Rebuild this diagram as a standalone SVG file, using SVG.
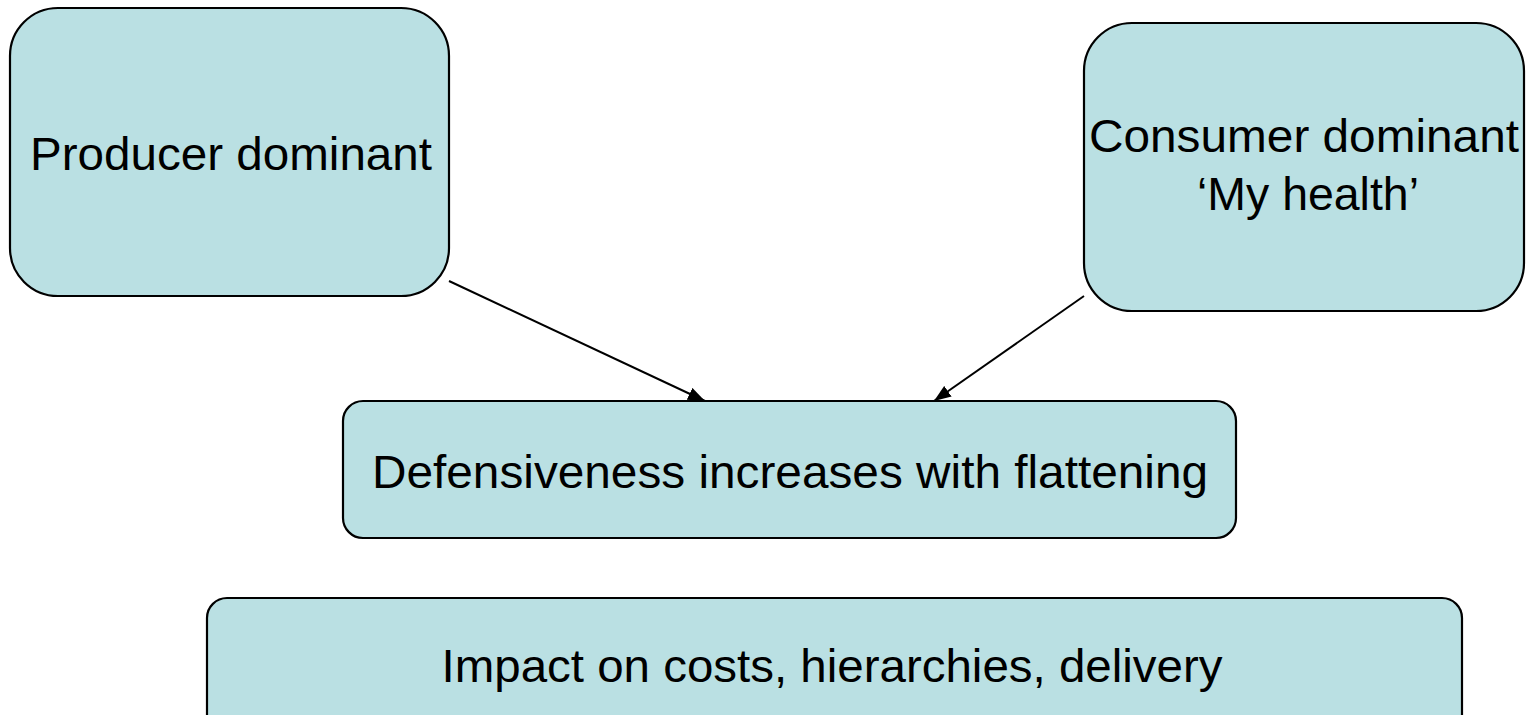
<svg xmlns="http://www.w3.org/2000/svg" width="1528" height="715" viewBox="0 0 1528 715">
<style>
.box{fill:#BAE0E3;stroke:#000;stroke-width:2.2}
.t{font-family:"Liberation Sans",Arial,sans-serif;font-size:46px;fill:#000;text-anchor:middle}
.c{stroke:#000;stroke-width:2;fill:none}
</style>
<defs>
<marker id="ah" viewBox="0 0 10 10" refX="10" refY="5" markerWidth="17" markerHeight="13" markerUnits="userSpaceOnUse" orient="auto" preserveAspectRatio="none">
<path d="M0,0 L10,5 L0,10 z" fill="#000"/>
</marker>
</defs>
<rect width="1528" height="715" fill="#fff"/>
<g id="producer">
<rect class="box" x="10" y="8" width="439" height="288" rx="48" ry="48"/>
<text class="t" x="231" y="170" textLength="402" lengthAdjust="spacingAndGlyphs">Producer dominant</text>
</g>
<g id="consumer">
<rect class="box" x="1084" y="23" width="440" height="288" rx="48" ry="48"/>
<text class="t" x="1304" y="152" textLength="430" lengthAdjust="spacingAndGlyphs">Consumer dominant</text>
<text class="t" x="1308" y="210" textLength="222" lengthAdjust="spacingAndGlyphs">‘My health’</text>
</g>
<g id="defensiveness">
<rect class="box" x="343" y="401" width="893" height="137" rx="20" ry="20"/>
<text class="t" x="790" y="488" textLength="836" lengthAdjust="spacingAndGlyphs">Defensiveness increases with flattening</text>
</g>
<g id="impact">
<rect class="box" x="207" y="598" width="1255" height="140" rx="20" ry="20"/>
<text class="t" x="832" y="682" textLength="781" lengthAdjust="spacingAndGlyphs">Impact on costs, hierarchies, delivery</text>
</g>
<g id="connectors">
<line class="c" x1="449" y1="281" x2="705" y2="401" marker-end="url(#ah)"/>
<line class="c" x1="1084" y1="296" x2="934" y2="401" marker-end="url(#ah)"/>
</g>
</svg>
